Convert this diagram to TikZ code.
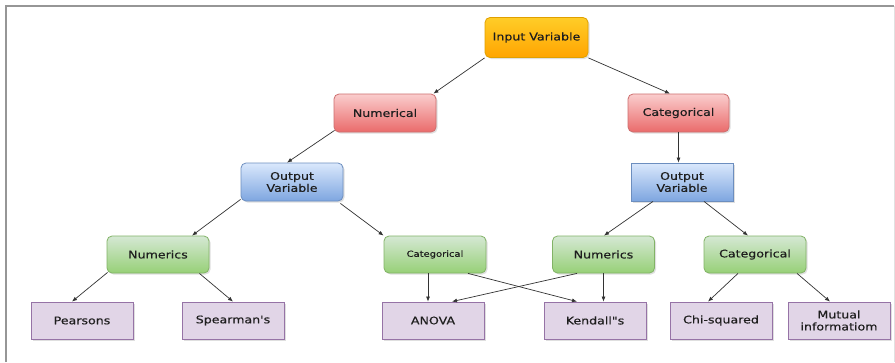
\documentclass[tikz,border=0pt]{standalone}
\usepackage{fontspec}
\setmainfont[FakeStretch=1.2,FakeBold=0.4,Ligatures=TeXOff]{DejaVu Sans}
\usetikzlibrary{calc,shadows,arrows.meta}
\definecolor{txt}{HTML}{1E1E1E}
\definecolor{linec}{HTML}{333333}
\definecolor{orD}{HTML}{E0A000}
\definecolor{orT}{HTML}{FFCC28}
\definecolor{orB}{HTML}{FFA500}
\definecolor{rdD}{HTML}{CD6E6E}
\definecolor{rdT}{HTML}{FACDCD}
\definecolor{rdB}{HTML}{EA6B6B}
\definecolor{blD}{HTML}{6C8EBF}
\definecolor{blT}{HTML}{DAE8FC}
\definecolor{blB}{HTML}{7EA6E0}
\definecolor{grD}{HTML}{82B366}
\definecolor{grT}{HTML}{D5E8D4}
\definecolor{grB}{HTML}{97D077}
\definecolor{puD}{HTML}{9673A6}
\definecolor{puF}{HTML}{E1D5E7}
\definecolor{frameA}{HTML}{969696}
\definecolor{frameB}{HTML}{E1E1E1}
\tikzset{
  box/.style={minimum width=102pt, minimum height=38pt, inner sep=1pt, align=center,
    font=\fontsize{10.5}{12}\selectfont, text=txt, line width=0.8pt,
    drop shadow={shadow xshift=1.5pt, shadow yshift=-1.5pt, opacity=0.25}},
  orangebox/.style={box, rounded corners=5pt, draw=orD, top color=orT, bottom color=orB},
  redbox/.style={box, rounded corners=5pt, draw=rdD, top color=rdT, bottom color=rdB},
  bluebox/.style={box, draw=blD, top color=blT, bottom color=blB},
  greenbox/.style={box, rounded corners=5pt, draw=grD, top color=grT, bottom color=grB},
  purplebox/.style={box, minimum height=37pt, draw=puD, fill=puF},
  conn/.style={draw=linec, line width=0.7pt, -{Latex[length=5pt,width=4pt]}},
}
\begin{document}
\begin{tikzpicture}[x=1pt,y=-1pt]
\useasboundingbox (0,0) rectangle (895,362);
\fill[white] (0,0) rectangle (895,362);
% frame
\draw[line width=2pt, draw=frameA] (6,362) -- (6,6) -- (894,6);
\draw[line width=0.8pt, draw=frameB] (894,6) -- (894,362);
% nodes
\node[orangebox, minimum height=40pt, minimum width=103pt] (inp) at (536.5,37.5) {Input Variable};
\node[redbox] (num) at (385,113) {Numerical};
\node[redbox, minimum width=101pt] (cat) at (678.5,113) {Categorical};
\node[bluebox, rounded corners=5pt] (outL) at (292,182) {Output\\Variable};
\node[bluebox] (outR) at (682,182) {Output\\Variable};
\node[greenbox, minimum height=37pt] (numsL) at (158,254.5) {Numerics};
\node[greenbox, minimum height=37pt, font=\fontsize{8.3}{10}\selectfont] (catM) at (435,254.5) {Categorical};
\node[greenbox, minimum height=37pt] (numsR) at (603.5,254.5) {Numerics};
\node[greenbox, minimum height=37pt] (catR) at (755,254.5) {Categorical};
\node[purplebox] (pear) at (82,320.5) {Pearsons};
\node[purplebox] (spear) at (233,320.5) {Spearman's};
\node[purplebox] (anova) at (433,320.5) {ANOVA};
\node[purplebox] (kend) at (595,320.5) {Kendall"s};
\node[purplebox] (chi) at (721,320.5) {Chi-squared};
\node[purplebox] (mut) at (839,320.5) {Mutual\\informatiom};
% helper coordinate
\coordinate (cma) at ($(catM.south)+(-7,0)$);
% connectors
\draw[conn] (inp.south west) -- ($(num.north east)+(-3,0)$);
\draw[conn] (inp.south east) -- ($(cat.north)+(-8.5,0)$);
\draw[conn] ($(num.south west)+(1,-2)$) -- ($(outL.north)+(-5,0)$);
\draw[conn] (cat.south) -- (cat.south |- outR.north);
\draw[conn] ($(outL.south west)+(0,-2)$) -- ($(numsL.north)+(34,0)$);
\draw[conn] ($(outL.south east)+(-3,2)$) -- (catM.north west);
\draw[conn] ($(outR.south)+(-29,0)$) -- ($(numsR.north)+(0.5,0)$);
\draw[conn] ($(outR.south)+(22,0)$) -- ($(catR.north)+(-7,0)$);
\draw[conn] ($(numsL.south west)+(1,-1)$) -- ($(pear.north)+(-10,0)$);
\draw[conn] ($(numsL.south east)+(-10,0)$) -- (spear.north);
\draw[conn] (cma) -- (cma |- anova.north);
\draw[conn] ($(catM.south)+(33,0)$) -- ($(kend.north)+(-18,0)$);
\draw[conn] ($(numsR.south)+(-26.5,0)$) -- ($(anova.north)+(19,0)$);
\draw[conn] (numsR.south) -- (numsR.south |- kend.north);
\draw[conn] ($(catR.south)+(-17,0)$) -- ($(chi.north)+(-13,0)$);
\draw[conn] ($(catR.south)+(42,0)$) -- ($(mut.north)+(-9,0)$);
\end{tikzpicture}
\end{document}
